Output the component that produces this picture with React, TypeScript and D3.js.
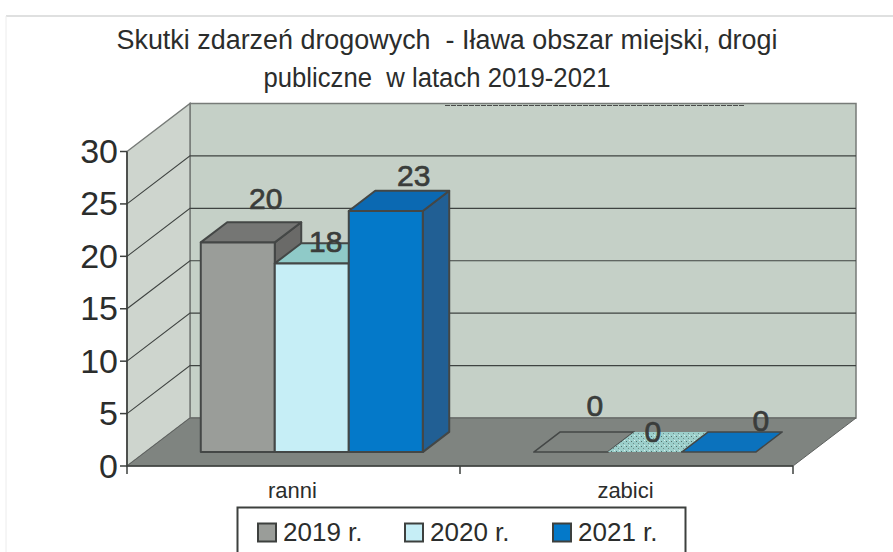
import React from "react";
import * as d3 from "d3";

const categories = ["ranni", "zabici"];
const seriesNames = ["2019 r.", "2020 r.", "2021 r."];
const values2019 = [20, 0];
const values2020 = [18, 0];
const values2021 = [23, 0];
const yTicks = [0, 5, 10, 15, 20, 25, 30];
const titleLines = ["Skutki zdarzeń drogowych  - Iława obszar miejski, drogi", "publiczne  w latach 2019-2021"];

const allValues = [values2019, values2020, values2021];
const frontColors = ["#9a9d99", "#c6eef6", "#0479c9"];
const topColors = ["#757674", "#8fcac8", "#0b69b2"];
const sideColors = ["#6a6a68", "#8fcac8", "#215f94"];
const zeroTopColors = ["#7f8480", "url(#stipple)", "#0b72bd"];
// label offsets from the bar's front-top centre (layout only)
const labelDx = [[28, 24], [14, 8], [28, 42]];
const labelDy = [[-33, -36], [-11, -10], [-25, -21]];

const FONT = "'Liberation Sans', Arial, sans-serif";
const INK = "#3a3d3b";
const depthX = 63;
const depthY = 48;
const barNear = 0.29;
const barFar = 0.71;

const x = d3.scaleBand<string>().domain(categories).range([127, 793]).paddingInner(0).paddingOuter(0);
const y = d3.scaleLinear().domain([0, 30]).range([466, 151.5]);
const inner = d3.scaleBand<string>().domain(seriesNames).range([0, x.bandwidth()]).paddingInner(0).paddingOuter(0.75);
const legendX = d3.scaleOrdinal<string, number>().domain(seriesNames).range([258, 405, 553]);

const proj = (px: number, v: number, t: number): [number, number] => [px + t * depthX, y(v) - t * depthY];
const poly = (pts: [number, number][]) => (d3.line()(pts) ?? "") + "Z";

export default function App() {
  const [x0, x1] = x.range();
  const backWall = poly([proj(x0, 0, 1), proj(x1, 0, 1), proj(x1, 30, 1), proj(x0, 30, 1)]);
  const sideWall = poly([proj(x0, 0, 0), proj(x0, 0, 1), proj(x0, 30, 1), proj(x0, 30, 0)]);
  const floor = poly([proj(x0, 0, 0), proj(x1, 0, 0), proj(x1, 0, 1), proj(x0, 0, 1)]);
  const xTicks = [x0, x0 + x.bandwidth(), x1];

  return (
    <svg width={893} height={552} style={{ position: "absolute", left: 0, top: 0, display: "block", background: "#fff" }}>
      <defs>
        <pattern id="stipple" width="5" height="5" patternUnits="userSpaceOnUse">
          <rect width="5" height="5" fill="#9ccfcb" />
          <rect x="1" y="1" width="1" height="1" fill="#54706c" />
          <rect x="3" y="3" width="1" height="1" fill="#6f8d89" />
          <rect x="4" y="0" width="1" height="1" fill="#d5ece8" />
        </pattern>
      </defs>
      <path d="M6,16H893" stroke="#d4d6d6" strokeWidth={1.5} />
      <path d="M6,16V552" stroke="#ececec" strokeWidth={1} />
      <g fontFamily={FONT} fill="#2b2d2c" fontSize={27} textAnchor="middle">
        <text x={447} y={49} textLength={661} lengthAdjust="spacingAndGlyphs" style={{ whiteSpace: "pre" }}>{titleLines[0]}</text>
        <text x={437} y={87} textLength={347} lengthAdjust="spacingAndGlyphs" style={{ whiteSpace: "pre" }}>{titleLines[1]}</text>
      </g>

      <path d={backWall} fill="#c5d0c7" stroke="#777b78" strokeWidth={1.5} />
      <path d={sideWall} fill="#ced5ce" stroke="#777b78" strokeWidth={1.5} />
      <path d={floor} fill="#7f8480" stroke="#5e615f" strokeWidth={1} />
      <path d="M445,105.5H745" stroke="#4a4c4b" strokeWidth={1} strokeDasharray="5 1" />

      {yTicks.filter((t) => t > 0 && t < 30).map((t) => (
        <path key={t} d={`M${proj(x0, t, 0).join(",")}L${proj(x0, t, 1).join(",")}L${proj(x1, t, 1).join(",")}`} fill="none" stroke="#3f4341" strokeWidth={1.1} />
      ))}
      <path d={`M${proj(x0, 30, 0).join(",")}V${y(0)}H${x1}`} fill="none" stroke="#3d403e" strokeWidth={1.6} />
      {yTicks.map((t) => (
        <g key={t}>
          <path d={`M${x0 - 7},${y(t)}H${x0}`} stroke="#3d403e" strokeWidth={1.5} />
          <text x={118} y={y(t) + 11.5} textAnchor="end" fontFamily={FONT} fontSize={34} fill="#2b2d2c">{t}</text>
        </g>
      ))}
      {xTicks.map((t) => <path key={t} d={`M${t},${y(0)}v8`} stroke="#3d403e" strokeWidth={1.5} />)}
      {categories.map((c) => (
        <text key={c} x={(x(c) ?? 0) + x.bandwidth() / 2 - 1} y={498} textAnchor="middle" fontFamily={FONT} fontSize={22} fill="#2b2d2c">{c}</text>
      ))}

      {seriesNames.map((s, si) =>
        categories.map((c, ci) => {
          const v = allValues[si][ci];
          const l = (x(c) ?? 0) + (inner(s) ?? 0);
          const r = l + inner.bandwidth();
          const stroke = "#444746";
          const top = poly([proj(l, v, barNear), proj(r, v, barNear), proj(r, v, barFar), proj(l, v, barFar)]);
          if (v === 0) {
            return <path key={c + s} d={top} fill={zeroTopColors[si]} stroke={si === 1 ? "none" : stroke} strokeWidth={1.5} strokeLinejoin="round" />;
          }
          const front = poly([proj(l, 0, barNear), proj(r, 0, barNear), proj(r, v, barNear), proj(l, v, barNear)]);
          const side = poly([proj(r, 0, barNear), proj(r, 0, barFar), proj(r, v, barFar), proj(r, v, barNear)]);
          return (
            <g key={c + s} stroke={stroke} strokeWidth={2} strokeLinejoin="round">
              <path d={side} fill={sideColors[si]} />
              <path d={top} fill={topColors[si]} />
              <path d={front} fill={frontColors[si]} />
            </g>
          );
        })
      )}
      {seriesNames.map((s, si) =>
        categories.map((c, ci) => {
          const v = allValues[si][ci];
          const [cx, cy] = proj((x(c) ?? 0) + (inner(s) ?? 0) + inner.bandwidth() / 2, v, barNear);
          return (
            <text key={c + s} x={cx + labelDx[si][ci]} y={cy + labelDy[si][ci]} textAnchor="middle" fontFamily={FONT} fontSize={30} fill={INK} stroke={INK} strokeWidth={0.7}>{v}</text>
          );
        })
      )}

      <rect x={237.5} y={507.5} width={448} height={60} fill="#fff" stroke="#3d403e" strokeWidth={2} />
      {seriesNames.map((s, i) => {
        const sx = legendX(s);
        return (
          <g key={s}>
            <rect x={sx} y={523.5} width={18} height={18} fill={frontColors[i]} stroke="#3d403e" strokeWidth={2} />
            <text x={sx + 25} y={541} fontFamily={FONT} fontSize={26} fill="#2b2d2c">{s}</text>
          </g>
        );
      })}
    </svg>
  );
}
